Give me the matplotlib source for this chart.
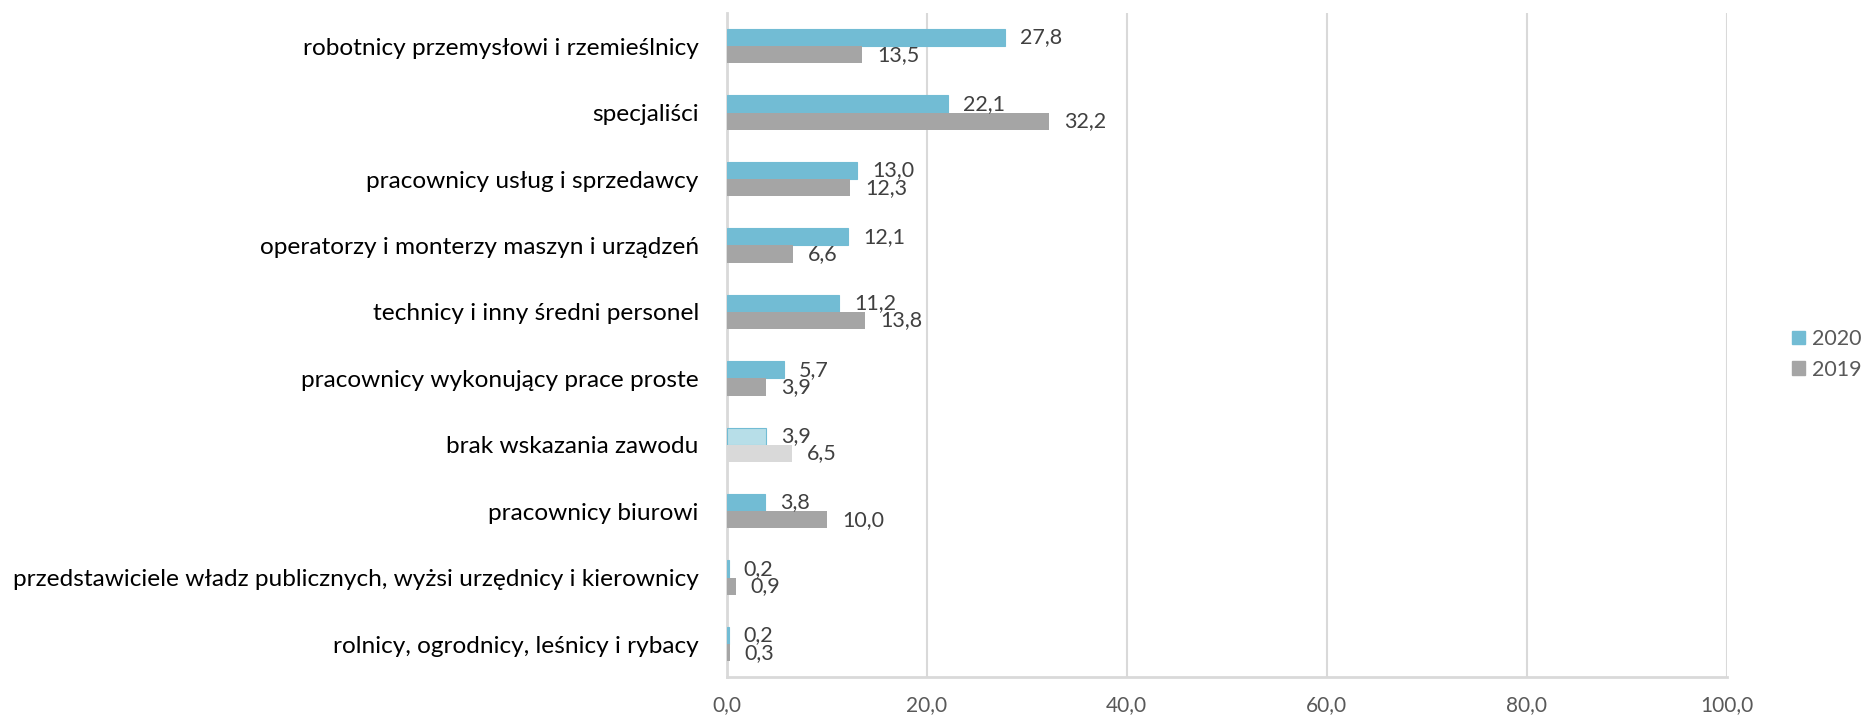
import matplotlib.pyplot as plt
import numpy as np

categories = [
    "robotnicy przemysłowi i rzemieślnicy",
    "specjaliści",
    "pracownicy usług i sprzedawcy",
    "operatorzy i monterzy maszyn i urządzeń",
    "technicy i inny średni personel",
    "pracownicy wykonujący prace proste",
    "brak wskazania zawodu",
    "pracownicy biurowi",
    "przedstawiciele władz publicznych, wyżsi urzędnicy i kierownicy",
    "rolnicy, ogrodnicy, leśnicy i rybacy",
]
values_2020 = [27.8, 22.1, 13.0, 12.1, 11.2, 5.7, 3.9, 3.8, 0.2, 0.2]
values_2019 = [13.5, 32.2, 12.3, 6.6, 13.8, 3.9, 6.5, 10.0, 0.9, 0.3]
series_labels = ["2020", "2019"]
highlight = "brak wskazania zawodu"
xticks = [0, 20, 40, 60, 80, 100]

plt.rcParams['font.family'] = ['Lato', 'DejaVu Sans']

BLUE = "#72BCD4"
GRAY = "#A5A5A5"
BLUE_LIGHT = "#B7DEE8"
GRAY_LIGHT = "#D9D9D9"

fig = plt.figure(figsize=(18.63, 7.19), dpi=100)
ax = fig.add_axes([0.390, 0.058, 0.537, 0.924])

n = len(categories)
y = np.arange(n)[::-1]
h = 0.26

c20 = [BLUE_LIGHT if c == highlight else BLUE for c in categories]
c19 = [GRAY_LIGHT if c == highlight else GRAY for c in categories]

b20 = ax.barh(y + h / 2, values_2020, height=h, color=c20, edgecolor=BLUE,
              linewidth=0.8, label=series_labels[0], zorder=3)
b19 = ax.barh(y - h / 2, values_2019, height=h, color=c19,
              label=series_labels[1], zorder=3)

for bars, vals in ((b20, values_2020), (b19, values_2019)):
    for bar, v in zip(bars, vals):
        ax.annotate(f"{v:.1f}".replace(".", ","),
                    (bar.get_width(), bar.get_y() + bar.get_height() / 2),
                    xytext=(11, 0), textcoords="offset points",
                    ha="left", va="center", fontsize=15.5, color="#404040",
                    zorder=4)

ax.set_xlim(0, 100)
ax.set_ylim(-0.5, n - 0.5)
ax.set_xticks(xticks)
ax.set_xticklabels([f"{t:.1f}".replace(".", ",") for t in xticks],
                   fontsize=15, color="#595959")
ax.set_yticks(y)
ax.set_yticklabels(categories, fontsize=17.6, color="#000000")
ax.tick_params(axis="both", length=0)
ax.tick_params(axis="x", pad=13)
ax.tick_params(axis="y", pad=20)

ax.grid(axis="x", color="#D9D9D9", linewidth=1.5, zorder=0)
for s in ("top", "right"):
    ax.spines[s].set_visible(False)
ax.spines["left"].set_color("#D9D9D9")
ax.spines["left"].set_linewidth(2)
ax.spines["bottom"].set_color("#D9D9D9")
ax.spines["bottom"].set_linewidth(2)

handles = [plt.Rectangle((0, 0), 1, 1, color=BLUE),
           plt.Rectangle((0, 0), 1, 1, color=GRAY)]
fig.legend(handles, series_labels, loc="center right",
           bbox_to_anchor=(0.999, 0.507), frameon=False, fontsize=15.5,
           handlelength=0.6, handleheight=0.6, handletextpad=0.3,
           labelspacing=0.5, borderaxespad=0, borderpad=0,
           labelcolor="#595959")

fig.savefig("out.png", dpi=100)
